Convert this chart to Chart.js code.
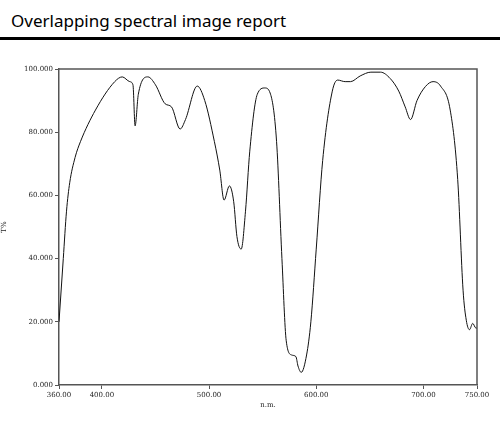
<!DOCTYPE html>
<html><head><meta charset="utf-8">
<script src="https://cdn.jsdelivr.net/npm/chart.js@4"></script>
<style>
body{margin:0;background:#fff;width:500px;height:421px;overflow:hidden}
#hd{height:40px;border-bottom:3px solid #000;box-sizing:border-box;font-family:"Noto Sans",sans-serif;font-size:17px;padding:9px 0 0 11px;color:#000}
#wrap{position:absolute;top:40px;left:0;width:500px;height:381px}
</style></head><body>
<div id="hd">Overlapping spectral image report</div>
<div id="wrap"><canvas id="c"></canvas></div>
<script>
// wavelength (nm) and transmittance (%)
const wavelengths = [360,364,367,370,375,380,394,412,419,426,429,431,434,443,450,459,465,473,478,489,496,505,510,514,519,523,526,530,534,538,545,552,557,563,568,572,577,581,583,586,591,595,600,606,615,620,627,632,641,651,660,669,677,683,688,694,702,709,716,725,732,737,740,743,746,749,750];
const transmittance = [20,40,55,64,72,77,87,96,97.5,96,95,82,92,97.5,95,89,88,81,84,94.6,90,77,68,58.5,63,58,47,43,55,74,92,94,92.4,77,40,14,9.5,9,6,4,9.5,20,43,71,93,96.5,96,96,97.8,99,99,97,93,88,84,90,94.5,96,94.6,87,65,30,20.5,17.5,19.5,18,18];
const xTicks = [360,400,500,600,700,750];
const yTicks = [0,20,40,60,80,100];

const tickFont = {family:"DejaVu Serif", size:7};
new Chart(document.getElementById("c"), {
  type: "line",
  data: {
    datasets: [{
      data: wavelengths.map((w, i) => ({x: w, y: transmittance[i]})),
      borderColor: "#111",
      borderWidth: 1,
      pointRadius: 0,
      cubicInterpolationMode: "monotone",
    }],
  },
  options: {
    responsive: true,
    maintainAspectRatio: false,
    animation: false,
    layout: {padding: {top: 29, right: 23, left: 0, bottom: 12}},
    plugins: {legend: {display: false}, tooltip: {enabled: false}},
    scales: {
      x: {
        type: "linear", min: 360, max: 750,
        afterBuildTicks: (s) => { s.ticks = xTicks.map(v => ({value: v})); },
        afterFit: (s) => { s.height = 24; },
        ticks: {font: tickFont, color: "#222", maxRotation: 0, padding: 2,
          callback: (v) => v.toFixed(2)},
        grid: {drawOnChartArea: false, tickLength: 4, color: "#555"},
        border: {color: "#555", width: 1.5},
        title: {display: true, text: "n.m.", font: tickFont, color: "#222", padding: 0},
      },
      y: {
        min: 0, max: 100,
        afterBuildTicks: (s) => { s.ticks = yTicks.map(v => ({value: v})); },
        afterFit: (s) => { s.width = 59; },
        ticks: {font: tickFont, color: "#222", padding: 2,
          callback: (v) => v.toFixed(3)},
        grid: {drawOnChartArea: false, tickLength: 4, color: "#555"},
        border: {color: "#555", width: 1.5},
        title: {display: true, text: "T%", font: tickFont, color: "#222", padding: 0},
      },
    },
  },
  plugins: [{
    id: "frame",
    afterDraw(chart) {
      const {ctx, chartArea: a} = chart;
      ctx.save();
      ctx.strokeStyle = "#555";
      ctx.lineWidth = 1.5;
      ctx.beginPath();
      ctx.moveTo(a.left, a.top); ctx.lineTo(a.right, a.top); ctx.lineTo(a.right, a.bottom);
      ctx.stroke();
      ctx.restore();
    },
  }],
});
</script>
</body></html>
